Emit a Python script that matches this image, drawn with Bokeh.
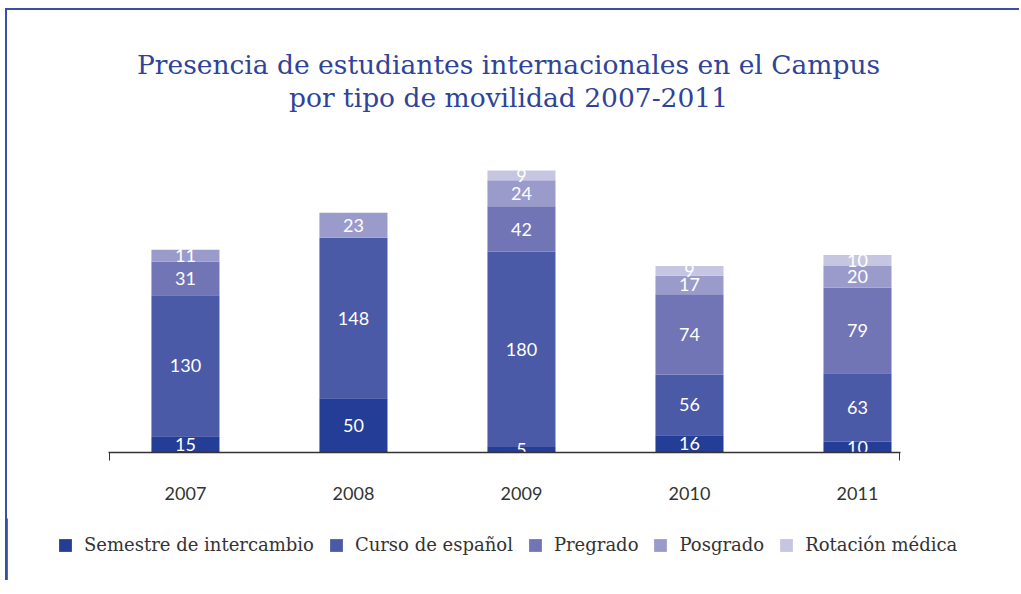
from bokeh.plotting import figure
from bokeh.models import ColumnDataSource, FixedTicker, Legend, LegendItem, Label, Range1d
from bokeh.embed import file_html
from bokeh.resources import INLINE
from bokeh.core.properties import value

years = ["2007", "2008", "2009", "2010", "2011"]
series_names = ["Semestre de intercambio", "Curso de español", "Pregrado", "Posgrado", "Rotación médica"]
semestre = [15, 50, 5, 16, 10]
curso = [130, 148, 180, 56, 63]
pregrado = [31, 0, 42, 74, 79]
posgrado = [11, 23, 24, 17, 20]
rotacion = [0, 0, 9, 9, 10]
title_line1 = "Presencia de estudiantes internacionales en el Campus"
title_line2 = "por tipo de movilidad 2007-2011"

colors = ["#243E97", "#4B5AA7", "#7275B5", "#9B9BCB", "#C6C6E2"]
title_color = "#2E4399"
frame_color = "#3A4EA2"

series_values = [semestre, curso, pregrado, posgrado, rotacion]
keys = ["s%d" % i for i in range(len(series_values))]
xs = list(range(len(years)))

data = {"x": xs}
for k, v in zip(keys, series_values):
    data[k] = v
source = ColumnDataSource(data)

# label positions derived from stacked values
lx, ly, lt = [], [], []
for j in range(len(years)):
    base = 0
    for v in series_values:
        vv = v[j]
        if vv > 0:
            lx.append(xs[j])
            ly.append(base + vv / 2)
            lt.append(str(vv))
        base += vv
lsrc = ColumnDataSource(dict(x=lx, y=ly, t=lt))

W = 1014
H1 = 510
H2 = 62
x_start, x_end = -0.458, 4.256
frame_left = 101
frame_w = 792
frame_h = 442
px_per_unit = 1.0846
y_end = frame_h / px_per_unit

p = figure(width=W, height=H1, output_backend="svg", toolbar_location=None,
           x_range=Range1d(x_start, x_end), y_range=Range1d(0, y_end),
           y_axis_location=None, x_axis_location="below",
           min_border_left=frame_left, min_border_right=W - frame_left - frame_w,
           min_border_top=0, min_border_bottom=H1 - frame_h,
           styles={"margin-left": "5px", "margin-top": "8px",
                   "border-left": "2px solid " + frame_color, "border-top": "2px solid " + frame_color})
p.outline_line_color = None
p.xgrid.visible = False
p.ygrid.visible = False
p.background_fill_color = "white"
p.border_fill_color = "white"

renderers = p.vbar_stack(keys, x="x", width=0.405, color=colors, source=source, line_width=0)

p.text(x="x", y="y", text="t", source=lsrc, text_align="center", text_baseline="middle",
       text_color="white", text_font=value("Lato"), text_font_size="18px")

ax = p.xaxis[0]
eps = 0.003
ax.ticker = FixedTicker(ticks=xs, minor_ticks=[x_start + eps, x_end - eps])
ax.major_label_overrides = {i: y for i, y in zip(xs, years)}
ax.major_tick_line_color = None
ax.minor_tick_line_color = "#333333"
ax.minor_tick_out = 8
ax.minor_tick_in = 0
ax.axis_line_color = "#333333"
ax.axis_line_width = 1.3
ax.major_label_standoff = 26
ax.major_label_text_font = "Lato"
ax.major_label_text_font_size = "18px"
ax.major_label_text_color = "#333333"

tx = x_start + 400 / 168.0
for txt, ypx in [(title_line1, 54), (title_line2, 87)]:
    p.add_layout(Label(x=tx, y=(frame_h - ypx) / px_per_unit, text=txt, text_align="center",
                       text_baseline="middle", text_font="DejaVu Serif",
                       text_font_size="26.5px", text_color=title_color))

# legend strip (separate root so its frame spans the full width)
p2 = figure(width=W, height=H2, output_backend="svg", toolbar_location=None,
            x_range=Range1d(100, 101), y_range=Range1d(0, 1),
            x_axis_location=None, y_axis_location=None, min_border=0,
            styles={"margin-left": "5px", "border-left": "2px solid " + frame_color})
p2.outline_line_color = None
p2.xgrid.visible = False
p2.ygrid.visible = False
r2 = p2.vbar_stack(keys, x="x", width=0.405, color=colors, source=source, line_width=0)

legend = Legend(items=[LegendItem(label=n, renderers=[r]) for n, r in zip(series_names, r2)],
                orientation="horizontal", location=(50, 25))
legend.glyph_width = 16
legend.glyph_height = 16
legend.label_standoff = 11
legend.spacing = 14
legend.label_text_font = "DejaVu Serif"
legend.label_text_font_size = "18px"
legend.label_text_color = "#333333"
legend.border_line_color = None
legend.background_fill_alpha = 0
legend.margin = 0
legend.padding = 0
p2.add_layout(legend, "center")

open("out.html", "w").write(file_html([p, p2], INLINE))
